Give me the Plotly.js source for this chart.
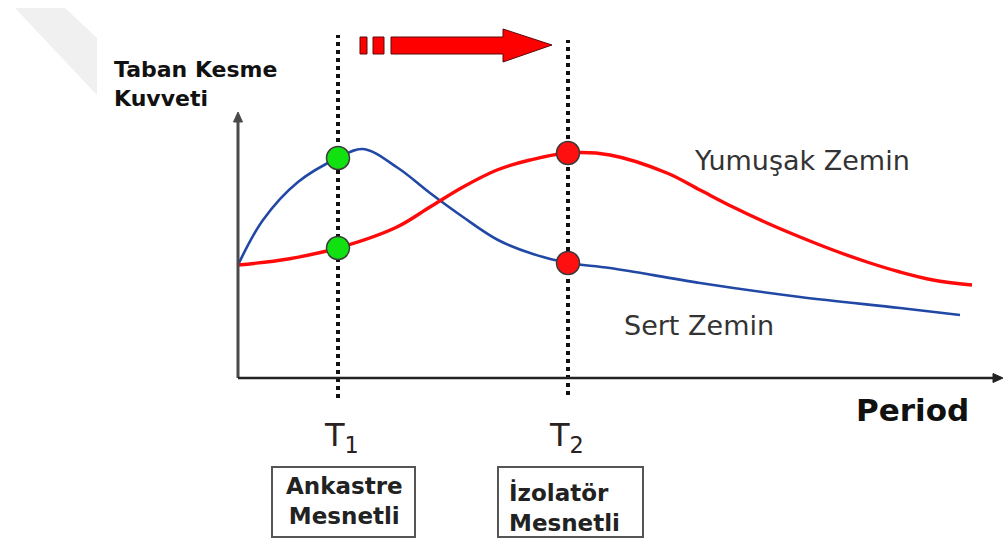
<!DOCTYPE html>
<html>
<head>
<meta charset="utf-8">
<script src="https://cdn.plot.ly/plotly-3.0.1.min.js"></script>
<style>
  html, body { margin: 0; padding: 0; background: #ffffff; }
  #chart { width: 1005px; height: 542px; }
</style>
</head>
<body>
<div id="chart"></div>
<script>
// Characteristic periods of the fixed-base and isolated structure
const T1 = 1.0;
const T2 = 3.3;

// Stiff soil (Sert Zemin) response curve
const periodSert = [0, 0.25, 0.6, 1.0, 1.25, 1.6, 1.92, 2.25, 2.6, 2.95, 3.3, 3.72, 4.62, 5.62, 6.62, 7.22];
const shearSert  = [1.13, 1.58, 1.96, 2.20, 2.29, 2.10, 1.85, 1.61, 1.38, 1.24, 1.15, 1.10, 0.95, 0.81, 0.70, 0.63];

// Soft soil (Yumuşak Zemin) response curve
const periodYumusak = [0, 0.5, 1.0, 1.59, 1.92, 2.25, 2.59, 2.92, 3.3, 3.72, 4.29, 4.62, 4.95, 5.29, 5.62, 5.95, 6.29, 6.62, 6.95, 7.34];
const shearYumusak  = [1.13, 1.19, 1.30, 1.51, 1.71, 1.91, 2.08, 2.18, 2.25, 2.23, 2.05, 1.88, 1.71, 1.55, 1.41, 1.28, 1.16, 1.06, 0.98, 0.93];

// Base shear read at T1 (green) and T2 (red)
const pointsT1 = [2.20, 1.30];
const pointsT2 = [2.25, 1.15];

// Axis extents
const xAxisEnd = 7.65;
const yAxisEnd = 2.66;

// Labels
const yLabel = 'Taban Kesme<br>Kuvveti';
const xLabel = 'Period';
const softLabel = 'Yumuşak Zemin';
const stiffLabel = 'Sert Zemin';
const box1Label = 'Ankastre<br>Mesnetli';
const box2Label = 'İzolatör<br>Mesnetli';

const traces = [
  {
    x: periodSert, y: shearSert, type: 'scatter', mode: 'lines',
    line: { color: '#2248a6', width: 2.6, shape: 'spline', smoothing: 1.0 },
    hoverinfo: 'skip'
  },
  {
    x: periodYumusak, y: shearYumusak, type: 'scatter', mode: 'lines',
    line: { color: '#ff0a0a', width: 3.4, shape: 'spline', smoothing: 1.0 },
    hoverinfo: 'skip'
  },
  {
    x: [T1, T1], y: pointsT1, type: 'scatter', mode: 'markers',
    marker: { color: '#11e011', size: 23, line: { color: '#3a3a3a', width: 1.5 } },
    hoverinfo: 'skip'
  },
  {
    x: [T2, T2], y: pointsT2, type: 'scatter', mode: 'markers',
    marker: { color: '#ff1010', size: 23, line: { color: '#3a3a3a', width: 1.5 } },
    hoverinfo: 'skip'
  }
];

const boxTop = -0.89, boxBottom = -1.59;

const shapes = [
  // faint page corner at the top left
  { type: 'path', xref: 'paper', yref: 'paper',
    path: 'M 0.0149 0.9852 L 0.0647 0.9852 L 0.0965 0.9299 L 0.0965 0.8247 Z',
    fillcolor: '#f0f0f0', line: { width: 0 }, layer: 'below' },
  // axes
  { type: 'line', x0: 0, x1: 0, y0: 0, y1: yAxisEnd - 0.08,
    line: { color: '#4a4a4a', width: 3 } },
  { type: 'path',
    path: `M -0.045 ${yAxisEnd - 0.1} L 0 ${yAxisEnd} L 0.045 ${yAxisEnd - 0.1} Z`,
    fillcolor: '#4a4a4a', line: { color: '#4a4a4a', width: 1 } },
  { type: 'line', x0: 0, x1: xAxisEnd - 0.08, y0: 0, y1: 0,
    line: { color: '#222222', width: 2.6 } },
  { type: 'path',
    path: `M ${xAxisEnd - 0.1} 0.045 L ${xAxisEnd} 0 L ${xAxisEnd - 0.1} -0.045 Z`,
    fillcolor: '#222222', line: { color: '#222222', width: 1 } },
  // dotted period markers
  { type: 'line', x0: T1, x1: T1, y0: -0.20, y1: 3.43,
    line: { color: '#111111', width: 4, dash: '4px,4px' }, layer: 'below' },
  { type: 'line', x0: T2, x1: T2, y0: -0.17, y1: 3.38,
    line: { color: '#111111', width: 4, dash: '4px,4px' }, layer: 'below' },
  // period shift arrow
  { type: 'rect', x0: 1.22, x1: 1.29, y0: 3.24, y1: 3.41,
    fillcolor: '#ff0000', line: { color: '#5a0a0a', width: 1 } },
  { type: 'rect', x0: 1.35, x1: 1.46, y0: 3.24, y1: 3.41,
    fillcolor: '#ff0000', line: { color: '#5a0a0a', width: 1 } },
  { type: 'path',
    path: 'M 1.53 3.41 L 2.65 3.41 L 2.65 3.49 L 3.14 3.33 L 2.65 3.16 L 2.65 3.24 L 1.53 3.24 Z',
    fillcolor: '#ff0000', line: { color: '#5a0a0a', width: 1 } },
  // label boxes
  { type: 'rect', x0: 0.34, x1: 1.77, y0: boxBottom, y1: boxTop,
    fillcolor: 'rgba(0,0,0,0)', line: { color: '#555555', width: 2 } },
  { type: 'rect', x0: 2.60, x1: 4.05, y0: boxBottom, y1: boxTop,
    fillcolor: 'rgba(0,0,0,0)', line: { color: '#555555', width: 2 } }
];

const annotations = [
  { x: -1.26, y: 2.94, xref: 'x', yref: 'y', xanchor: 'left', yanchor: 'middle', align: 'left',
    showarrow: false, text: yLabel,
    font: { family: 'DejaVu Sans', size: 22, color: '#111111', weight: 'bold' } },
  { x: 6.16, y: -0.32, xref: 'x', yref: 'y', xanchor: 'left', yanchor: 'middle',
    showarrow: false, text: xLabel,
    font: { family: 'DejaVu Sans', size: 31, color: '#111111', weight: 'bold' } },
  { x: 4.54, y: 2.18, xref: 'x', yref: 'y', xanchor: 'left', yanchor: 'middle',
    showarrow: false, text: softLabel,
    font: { family: 'DejaVu Sans', size: 27, color: '#333333' } },
  { x: 3.84, y: 0.53, xref: 'x', yref: 'y', xanchor: 'left', yanchor: 'middle',
    showarrow: false, text: stiffLabel,
    font: { family: 'DejaVu Sans', size: 27, color: '#333333' } },
  { x: 0.84, y: -0.59, xref: 'x', yref: 'y', xanchor: 'left', yanchor: 'middle',
    showarrow: false, text: 'T<sub>1</sub>',
    font: { family: 'DejaVu Sans', size: 32, color: '#2a2222' } },
  { x: 3.09, y: -0.59, xref: 'x', yref: 'y', xanchor: 'left', yanchor: 'middle',
    showarrow: false, text: 'T<sub>2</sub>',
    font: { family: 'DejaVu Sans', size: 32, color: '#2a2222' } },
  { x: 1.06, y: -1.23, xref: 'x', yref: 'y', xanchor: 'center', yanchor: 'middle', align: 'center',
    showarrow: false, text: box1Label,
    font: { family: 'DejaVu Sans', size: 23, color: '#222222', weight: 'bold' } },
  { x: 2.69, y: -1.29, xref: 'x', yref: 'y', xanchor: 'left', yanchor: 'middle', align: 'left',
    showarrow: false, text: box2Label,
    font: { family: 'DejaVu Sans', size: 23, color: '#222222', weight: 'bold' } }
];

const layout = {
  width: 1005, height: 542,
  margin: { l: 0, r: 0, t: 0, b: 0 },
  paper_bgcolor: '#ffffff', plot_bgcolor: '#ffffff',
  showlegend: false,
  xaxis: { range: [-2.38, 7.67], visible: false, fixedrange: true },
  yaxis: { range: [-1.64, 3.78], visible: false, fixedrange: true },
  shapes: shapes,
  annotations: annotations
};

Plotly.newPlot('chart', traces, layout, { displayModeBar: false, staticPlot: true });
</script>
</body>
</html>
